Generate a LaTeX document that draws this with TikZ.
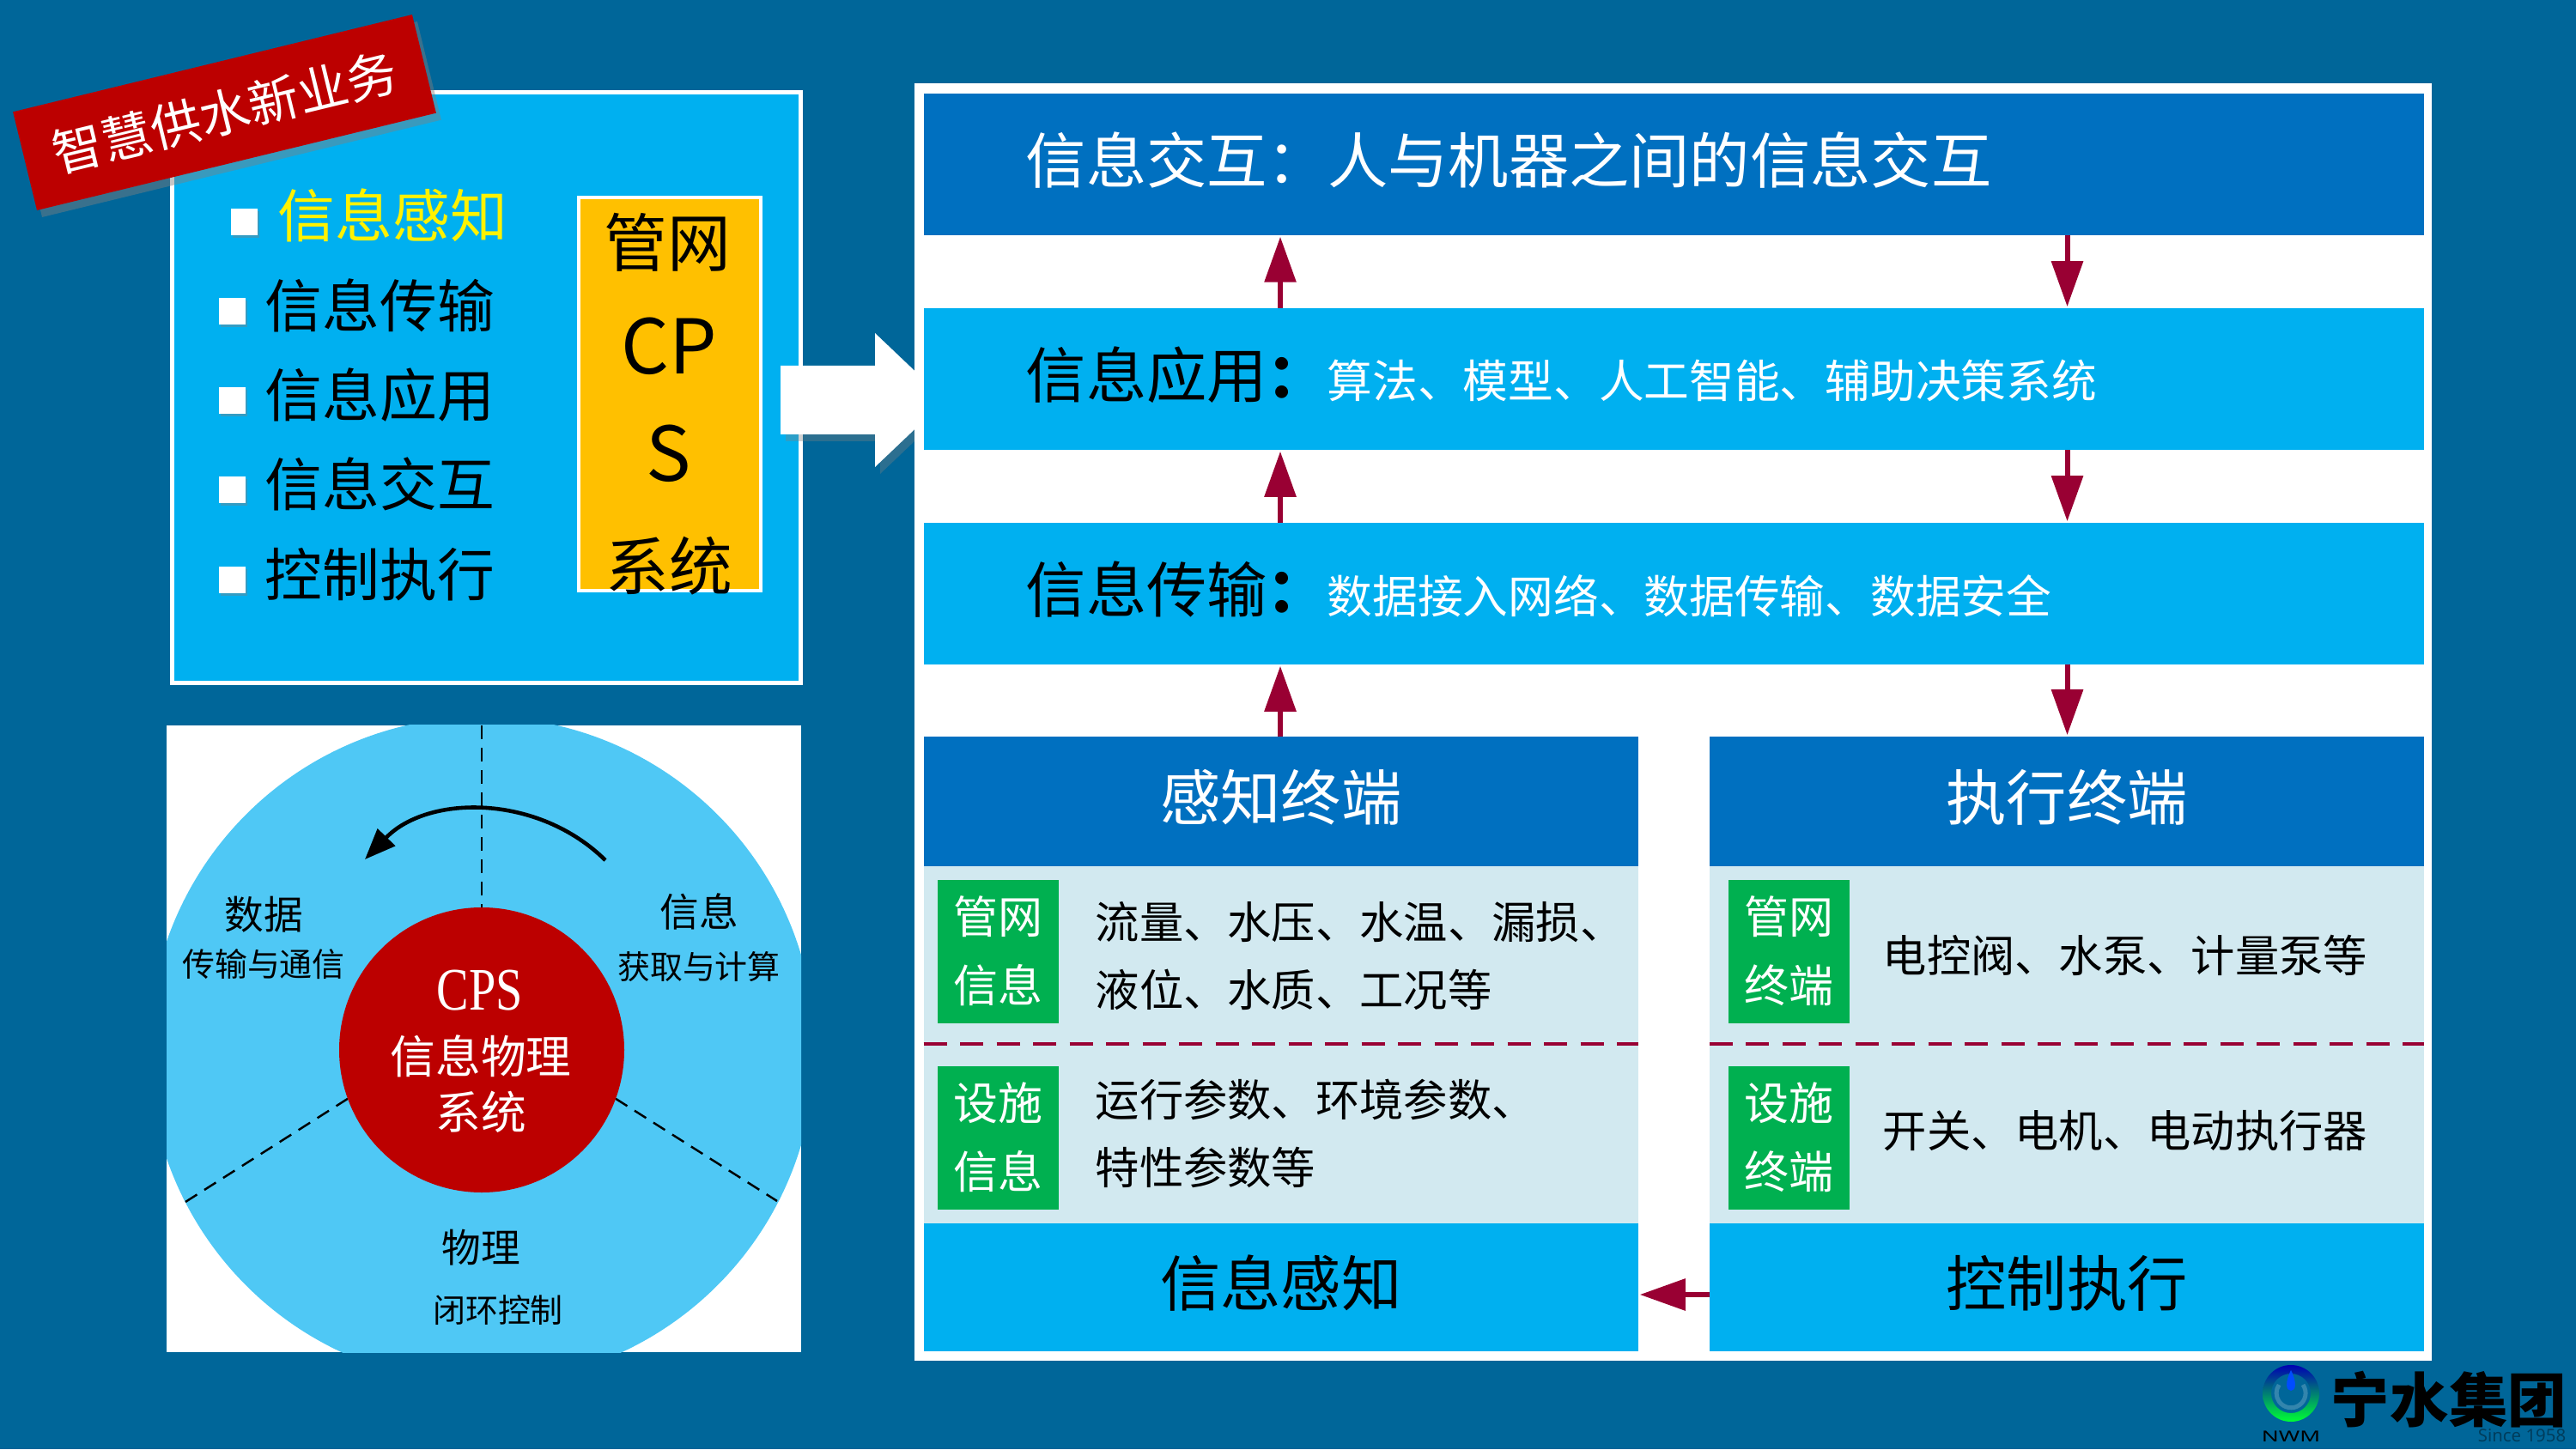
\documentclass[tikz,border=0pt]{standalone}
\usepackage{fontspec}
\setmainfont{Noto Sans CJK SC}
\newfontfamily\cpsfont{Liberation Serif}
\newfontfamily\latinfont{Noto Sans}
\usetikzlibrary{arrows.meta,shadows}
\definecolor{bgblue}{HTML}{006699}
\definecolor{deepblue}{HTML}{0070C0}
\definecolor{skyblue}{HTML}{00B0F0}
\definecolor{paleblue}{HTML}{D2E9F0}
\definecolor{discblue}{HTML}{4FC8F5}
\definecolor{termgreen}{HTML}{00B050}
\definecolor{flowred}{HTML}{990033}
\definecolor{bannerred}{HTML}{BC0000}
\definecolor{amber}{HTML}{FFC000}
\tikzset{
	block/.style={rectangle,inner sep=0pt,outer sep=0pt},
	rowbar/.style={block,minimum width=17.475cm,minimum height=1.65cm,fill=skyblue},
	headbar/.style={block,minimum width=8.325cm,minimum height=1.51cm,fill=deepblue,text=white,text height=.62cm,text depth=.18cm,font=\fontsize{20}{24}\selectfont},
	footbar/.style={block,minimum width=8.325cm,minimum height=1.49cm,fill=skyblue,text height=.62cm,text depth=.18cm,font=\fontsize{20}{24}\selectfont},
	midpanel/.style={block,minimum width=8.325cm,minimum height=4.16cm,fill=paleblue},
	tag/.style={block,minimum width=1.41cm,minimum height=1.67cm,fill=termgreen,text=white,align=center,font=\fontsize{14.8}{22.7}\selectfont},
	bigtext/.style={anchor=west,inner sep=0pt,font=\fontsize{20}{24}\selectfont},
	subtext/.style={anchor=west,inner sep=0pt,text=white,font=\fontsize{15}{18}\selectfont},
	brush/.style={anchor=west,inner sep=0pt,align=left,font=\fontsize{14.6}{22.5}\selectfont},
	item/.style={anchor=west,inner sep=0pt,font=\fontsize{19}{23}\selectfont},
	tick/.style={block,minimum size=.31cm,fill=white,drop shadow={shadow xshift=.02cm,shadow yshift=-.03cm,opacity=.4}},
	cpstext/.style={inner sep=0pt,font=\fontsize{21}{25}\selectfont},
	disclabel/.style={inner sep=0pt,font=\fontsize{13}{16}\selectfont},
	discsub/.style={inner sep=0pt,font=\fontsize{10.8}{13}\selectfont},
	redlabel/.style={inner sep=0pt,text=white,font=\fontsize{15}{18}\selectfont},
	flow/.style={flowred,line width=.06cm,-{Triangle[length=.53cm,width=.36cm]},shorten >=.5pt},
	sepline/.style={flowred,line width=1pt,dash pattern=on .27cm off .155cm},
	sector/.style={black,line width=.7pt,dash pattern=on .16cm off .1cm}
}
\begin{document}
\begin{tikzpicture}
	\useasboundingbox (0,0) rectangle (30,16.88);
	\fill[bgblue] (0,0) rectangle (30,16.88);

	\node[block,minimum width=7.32cm,minimum height=6.88cm,fill=skyblue,draw=white,line width=1.4pt] (listbox) at (5.665,12.365) {};
	\node[block,minimum width=2.12cm,minimum height=4.58cm,fill=amber,draw=white,line width=1pt] (cpsbox) at (7.8,12.29) {};
	\node[cpstext] (cps1) at (7.77,14.06) {管网};
	\node[cpstext,font=\fontsize{25}{30}\selectfont] (cps2) at (7.79,12.85) {CP};
	\node[cpstext,font=\fontsize{25}{30}\selectfont] (cps3) at (7.79,11.6) {S};
	\node[cpstext] (cps4) at (7.79,10.29) {系统};

	\node[tick] (tick1) at (2.845,14.29) {};
	\node[item,text=yellow] (item1) at (3.23,14.37) {信息感知};
	\foreach \n/\y/\t in {2/13.25/信息传输,3/12.21/信息应用,4/11.17/信息交互,5/10.12/控制执行}{
		\node[tick] (tick\n) at (2.705,\y) {};
		\node[item] (item\n) at (3.08,\y+.07) {\t};
	}

	\node[block,minimum width=4.785cm,minimum height=1.18cm,fill=bannerred,rotate=13.7,text=white,font=\fontsize{16.7}{20}\selectfont,drop shadow={shadow xshift=.06cm,shadow yshift=-.08cm,opacity=.45}] (banner) at (2.615,15.57) {智慧供水新业务};

	\fill[white,drop shadow={shadow xshift=.06cm,shadow yshift=-.08cm,opacity=.35}] (9.09,12.62) -- (10.19,12.62) -- (10.19,13) -- (11.01,12.22) -- (10.19,11.44) -- (10.19,11.82) -- (9.09,11.82) -- cycle;

	\node[block,minimum width=7.39cm,minimum height=7.3cm,fill=white] (cpspanel) at (5.635,4.78) {};
	\begin{scope}
		\clip (cpspanel.south west) rectangle (cpspanel.north east);
		\fill[discblue] (5.61,4.65) circle (3.88);
	\end{scope}
	\node[circle,inner sep=0pt,outer sep=0pt,minimum size=3.32cm] (cps) at (5.61,4.65) {};
	\coordinate (sectorl) at (2.16,2.88);
	\coordinate (sectorr) at (9.05,2.89);
	\draw[sector] (cps.north |- cpspanel.north) -- (cps.north);
	\draw[sector] (cps.200) -- (sectorl);
	\draw[sector] (cps.340) -- (sectorr);
	\fill[bannerred] (cps.center) circle (1.66);
	\node[inner sep=0pt,text=white,font=\cpsfont\fontsize{20}{24}\selectfont] (cpsname) at (5.59,5.34) {\scalebox{.8}[1]{CPS}};
	\node[redlabel] (cpsline1) at (5.6,4.58) {信息物理};
	\node[redlabel] (cpsline2) at (5.6,3.93) {系统};
	\coordinate (arcstart) at (7.05,6.86);
	\coordinate (arctip) at (4.25,6.87);
	\draw[line width=1.3pt,-{Triangle[length=.36cm,width=.28cm]}] (arcstart) .. controls (6.27,7.63) and (4.99,7.63) .. (arctip);
	\node[disclabel] (datatitle) at (3.07,6.23) {数据};
	\node[discsub] (datasub) at (3.07,5.65) {传输与通信};
	\node[disclabel] (infotitle) at (8.14,6.26) {信息};
	\node[discsub] (infosub) at (8.14,5.62) {获取与计算};
	\node[disclabel] (phystitle) at (5.6,2.35) {物理};
	\node[discsub] (physsub) at (5.8,1.62) {闭环控制};

	\node[block,minimum width=17.67cm,minimum height=14.88cm,fill=white] (frame) at (19.485,8.47) {};

	\node[rowbar,fill=deepblue] (infobar) at (19.4925,14.965) {};
	\node[rowbar] (appbar) at (19.4925,12.465) {};
	\node[rowbar] (netbar) at (19.4925,9.965) {};
	\node[bigtext,text=white] (infotext) at (11.94,15.01) {信息交互：人与机器之间的信息交互};
	\node[bigtext] (apptext) at (11.94,12.51) {信息应用\textbf{：}};
	\node[subtext] (appsub) at (15.45,12.45) {算法、模型、人工智能、辅助决策系统};
	\node[bigtext] (nettext) at (11.94,10.01) {信息传输\textbf{：}};
	\node[subtext] (netsub) at (15.45,9.94) {数据接入网络、数据传输、数据安全};

	\node[headbar] (sensehead) at (14.9175,7.545) {感知终端};
	\node[midpanel] (sensemid) at (14.9175,4.71) {};
	\node[footbar] (sensefoot) at (14.9175,1.885) {信息感知};
	\node[headbar] (acthead) at (24.07,7.545) {执行终端};
	\node[midpanel] (actmid) at (24.07,4.71) {};
	\node[footbar] (actfoot) at (24.07,1.885) {控制执行};

	\node[tag] (sensetag1) at (11.625,5.8) {管网\\信息};
	\node[tag] (sensetag2) at (11.625,3.63) {设施\\信息};
	\node[tag] (acttag1) at (20.83,5.8) {管网\\终端};
	\node[tag] (acttag2) at (20.83,3.63) {设施\\终端};
	\node[brush] (sensetext1) at (12.75,5.745) {流量、水压、水温、漏损、\\液位、水质、工况等};
	\node[brush] (sensetext2) at (12.75,3.675) {运行参数、环境参数、\\特性参数等};
	\node[brush] (acttext1) at (21.92,5.75) {电控阀、水泵、计量泵等};
	\node[brush] (acttext2) at (21.92,3.71) {开关、电机、电动执行器};

	\coordinate (sepy) at (0,4.72);
	\draw[sepline] (sensemid.west |- sepy) -- (sensemid.east |- sepy);
	\draw[sepline] (actmid.west |- sepy) -- (actmid.east |- sepy);

	\coordinate (upx) at (14.91,0);
	\coordinate (downx) at (24.075,0);
	\draw[flow] (appbar.north -| upx) -- (infobar.south -| upx);
	\draw[flow] (netbar.north -| upx) -- (appbar.south -| upx);
	\draw[flow] (sensehead.north -| upx) -- (netbar.south -| upx);
	\draw[flow] (infobar.south -| downx) -- (appbar.north -| downx);
	\draw[flow] (appbar.south -| downx) -- (netbar.north -| downx);
	\draw[flow] (netbar.south -| downx) -- (acthead.north -| downx);
	\coordinate (backy) at (0,1.8);
	\draw[flow] (actfoot.west |- backy) -- (sensefoot.east |- backy);

	\shade[top color=blue!70!black,bottom color=green!80!cyan,even odd rule] (26.68,.65) circle (.33) (26.68,.65) circle (.23);
	\draw[line width=.05cm,blue!60!green!80!white] (26.82,.75) arc[start angle=35,end angle=-215,radius=.17];
	\fill[blue!70!cyan] (26.68,.92) .. controls (26.75,.78) and (26.74,.68) .. (26.68,.68) .. controls (26.62,.68) and (26.61,.78) .. (26.68,.92);
	\node[inner sep=0pt,text=black,font=\fontsize{5}{6}\selectfont\latinfont] (logoname) at (26.68,.15) {\scalebox{1.5}[1]{NWM}};
	\node[inner sep=0pt,text=black,font=\bfseries\fontsize{19.5}{23}\selectfont] (logotext) at (28.52,.58) {宁水集团};
	\node[inner sep=0pt,text=bgblue!60!black,font=\fontsize{5.8}{7}\selectfont\latinfont] (logoyear) at (29.37,.16) {Since 1958};
\end{tikzpicture}
\end{document}
